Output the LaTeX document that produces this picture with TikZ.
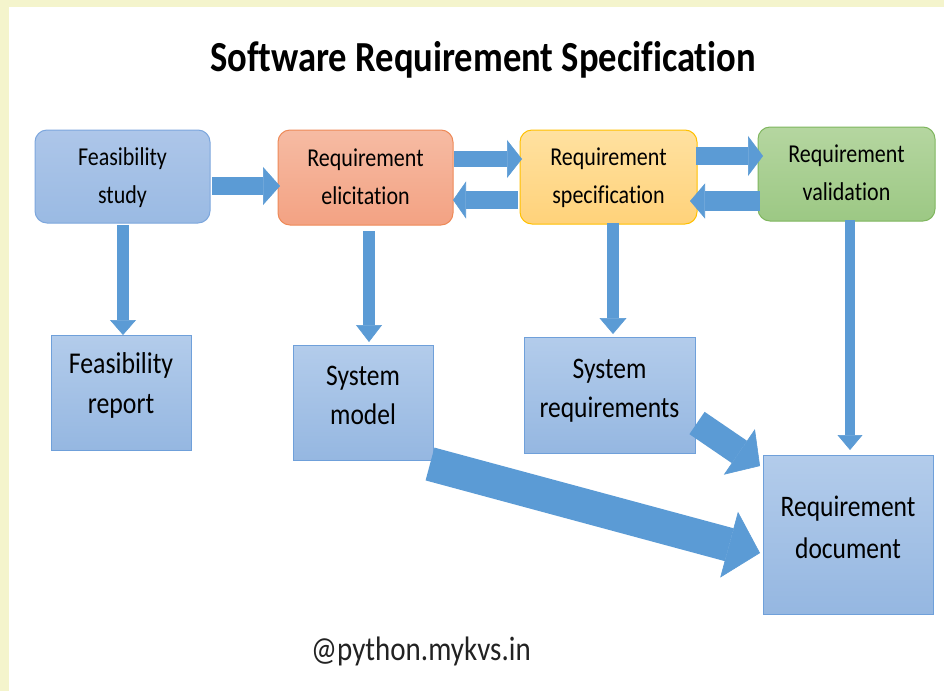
\documentclass[tikz,border=0pt]{standalone}
\usepackage{fontspec}
\setmainfont{Carlito}[Ligatures=CommonOff]
\usepackage{graphicx}
\usetikzlibrary{arrows.meta,calc}
\definecolor{bgyel}{HTML}{F4F4CC}
\definecolor{arrblue}{HTML}{5B9BD5}
\definecolor{bxtop}{HTML}{B3CCEB}
\definecolor{bxbot}{HTML}{95B7E1}
\definecolor{bxline}{HTML}{6FA0DA}
\definecolor{fstop}{HTML}{ADC6E9}
\definecolor{fsbot}{HTML}{9ABAE3}
\definecolor{fsline}{HTML}{7DA7DD}
\definecolor{retop}{HTML}{F6BBA3}
\definecolor{rebot}{HTML}{F3A283}
\definecolor{reline}{HTML}{EE8A58}
\definecolor{rstop}{HTML}{FFE1A0}
\definecolor{rsbot}{HTML}{FFD27A}
\definecolor{rsline}{HTML}{FFC000}
\definecolor{rvtop}{HTML}{B5D6A0}
\definecolor{rvbot}{HTML}{9CC884}
\definecolor{rvline}{HTML}{7FB65E}
\definecolor{wmark}{HTML}{222222}
\newcommand\vtxt[3]{\scalebox{1}[1.17]{\fontsize{#1}{#2}\selectfont\begin{tabular}{@{}c@{}}#3\end{tabular}}}
\tikzset{
  procbox/.style={rectangle, rounded corners=12pt, line width=1pt, inner sep=0pt, outer sep=0pt, minimum width=175pt, minimum height=94pt},
  outbox/.style={rectangle, line width=1pt, inner sep=0pt, outer sep=0pt, draw=bxline, top color=bxtop, bottom color=bxbot},
  lbl/.style={inner sep=0pt, outer sep=0pt, text=black},
  barrow/.style n args={3}{draw=arrblue, line width=#1, -{Triangle[length=#3, width=#2, line width=0.6pt, fill=arrblue]}}
}
\begin{document}
\begin{tikzpicture}[x=1pt,y=-1pt]
\useasboundingbox (0,0) rectangle (944,691);
\fill[bgyel] (0,0) rectangle (944,691);
\fill[white] (9,7) rectangle (944,691);

% title
\node[lbl, anchor=base] (title) at (483,71.7) {\scalebox{1}[1.17]{\fontsize{36.6}{40}\selectfont\bfseries Software Requirement Specification}};

% process boxes
\node[procbox, draw=fsline, top color=fstop, bottom color=fsbot, minimum width=175pt, minimum height=93pt] (fs) at (122.5,176.5) {};
\node[procbox, draw=reline, top color=retop, bottom color=rebot, minimum width=175pt, minimum height=95pt] (re) at (365.5,177.5) {};
\node[procbox, draw=rsline, top color=rstop, bottom color=rsbot, minimum width=177pt, minimum height=94pt] (rs) at (608.5,177) {};
\node[procbox, draw=rvline, top color=rvtop, bottom color=rvbot, minimum width=177pt, minimum height=94pt] (rv) at (846.5,174) {};

% output boxes
\node[outbox, minimum width=140pt, minimum height=115pt] (fr) at (121,392.5) {};
\node[outbox, minimum width=140pt, minimum height=115pt] (sm) at (363,402.5) {};
\node[outbox, minimum width=171pt, minimum height=116pt] (sr) at (609.5,395) {};
\node[outbox, minimum width=170pt, minimum height=159pt] (rd) at (848,534.5) {};

% arrows
\draw[barrow={18pt}{38pt}{17pt}] ($(fs.east)+(2,9.5)$) -- ($(re.west)+(2,8.5)$);
\draw[barrow={16pt}{38pt}{15pt}] ($(re.east)+(1,-18.5)$) -- ($(rs.west)+(2,-18)$);
\draw[barrow={18pt}{37pt}{13pt}] ($(rs.west)+(-2,23)$) -- ($(re.east)+(0,22.5)$);
\draw[barrow={18pt}{40pt}{15pt}] ($(rs.east)+(-1,-21)$) -- ($(rv.west)+(5,-18)$);
\draw[barrow={20pt}{35pt}{15pt}] ($(rv.west)+(2,27)$) -- ($(rs.east)+(-7,24)$);
\draw[barrow={12pt}{26pt}{15pt}] ($(fs.south)+(0.5,2)$) -- ($(fr.north)+(2,0)$);
\draw[barrow={12pt}{26pt}{17pt}] ($(re.south)+(3.5,6)$) -- ($(sm.north)+(6,-3)$);
\draw[barrow={12pt}{27pt}{16pt}] ($(rs.south)+(4.5,-1)$) -- ($(sr.north)+(3.5,-3)$);
\draw[barrow={10pt}{25pt}{15pt}] ($(rv.south)+(3.5,-1)$) -- ($(rd.north)+(2,-5)$);
\draw[barrow={27pt}{55pt}{25pt}] ($(sr.east)+(2,28)$) -- ($(rd.west)+(-3,-68.5)$);
\draw[barrow={34pt}{68pt}{32pt}] ($(sm.south east)+(-3,4)$) -- ($(rd.west)+(-3,18.5)$);

% labels
\node[lbl] (fsl) at (fs.center) {\vtxt{22}{32.5}{Feasibility\\study}};
\node[lbl] (rel) at (re.center) {\vtxt{22}{32.5}{Requirement\\elicitation}};
\node[lbl] (rsl) at (rs.center) {\vtxt{22}{32.5}{Requirement\\specification}};
\node[lbl] (rvl) at (rv.center) {\vtxt{22}{32.5}{Requirement\\validation}};
\node[lbl] (frl) at ($(fr.center)+(0,-7)$) {\vtxt{25.8}{34}{Feasibility\\report}};
\node[lbl] (sml) at ($(sm.center)+(0,-5.5)$) {\vtxt{25.5}{34}{System\\model}};
\node[lbl] (srl) at ($(sr.center)+(0,-5)$) {\vtxt{25.5}{34}{System\\requirements}};
\node[lbl] (rdl) at ($(rd.center)+(0,-5.5)$) {\vtxt{25.5}{36}{Requirement\\document}};

% watermark
\node[lbl, anchor=base, text=wmark] (wm) at (421,660) {\scalebox{1}[1.17]{\fontsize{29}{34}\selectfont @python.mykvs.in}};
\end{tikzpicture}
\end{document}
